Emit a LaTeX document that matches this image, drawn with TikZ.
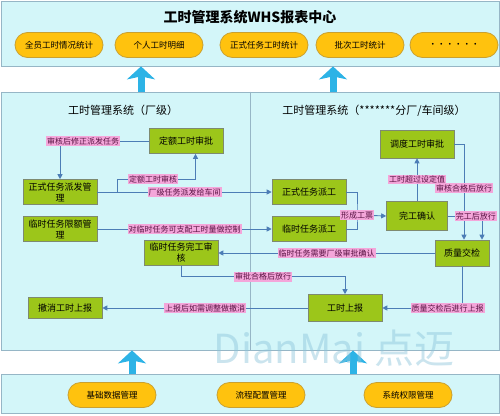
\documentclass[tikz,border=0pt]{standalone}
\usepackage{fontspec}
\setmainfont{Noto Sans CJK SC}
\usetikzlibrary{arrows.meta}
\definecolor{panelbg}{HTML}{D3F6F9}
\definecolor{panelline}{HTML}{96B6C6}
\definecolor{ovalfill}{HTML}{FFC20E}
\definecolor{ovalline}{HTML}{C9A030}
\definecolor{boxgreen}{HTML}{9CC61A}
\definecolor{boxline}{HTML}{7E8A70}
\definecolor{tagpink}{HTML}{F4A6DA}
\definecolor{tagtext}{HTML}{5A1444}
\definecolor{linkblue}{HTML}{4C7DB6}
\definecolor{bigblue}{HTML}{2DB3E6}
\definecolor{markblue}{HTML}{8CC4DA}

\begin{document}
\begin{tikzpicture}[x=1pt,y=-1pt,
  panel/.style={draw=panelline, fill=panelbg, line width=0.8pt, inner sep=0pt},
  rpt/.style={draw=ovalline, fill=ovalfill, line width=0.8pt, rounded corners=12.5pt,
    minimum width=88pt, minimum height=25pt, font=\fontsize{8.5}{10}\selectfont},
  box/.style={draw=boxline, fill=boxgreen, line width=0.6pt, minimum width=74pt,
    minimum height=25pt, align=center, inner sep=1pt, font=\fontsize{9}{11}\selectfont},
  tag/.style={fill=tagpink, text=tagtext, inner sep=1pt, font=\fontsize{8}{9}\selectfont},
  link/.style={draw=linkblue, line width=0.9pt, -{Triangle[length=5pt,width=5pt]}},
  bigarrow/.style={draw=bigblue, line width=7pt, -{Stealth[length=13pt,width=28pt,inset=3pt]}}]

  \useasboundingbox (0,0) rectangle (500,415);

  %% panels
  \node[panel, minimum width=498pt, minimum height=65pt] (top) at (250,33.5) {};
  \node[panel, minimum width=498pt, minimum height=258pt] (mid) at (250,221) {};
  \node[panel, minimum width=498pt, minimum height=39pt] (bot) at (250,394) {};
  \draw[panelline, line width=0.8pt] (mid.north) -- (mid.south);

  %% report centre
  \node[font=\fontsize{14}{16}\selectfont\bfseries] (hd) at (250,17) {工时管理系统WHS报表中心};
  \node[rpt] (r1) at (59,45) {全员工时情况统计};
  \node[rpt] (r2) at (159,45) {个人工时明细};
  \node[rpt] (r3) at (264,45) {正式任务工时统计};
  \node[rpt] (r4) at (360,45) {批次工时统计};
  \node[rpt] (r5) at (454,45) {\textperiodcentered\textperiodcentered\textperiodcentered\textperiodcentered\textperiodcentered\textperiodcentered};

  %% panel titles
  \node[font=\fontsize{11}{13}\selectfont] (tl) at (123,110) {工时管理系统（厂级）};
  \node[font=\fontsize{11}{13}\selectfont] (tr) at (374,111) {工时管理系统（*******分厂/车间级）};

  %% factory level
  \node[box] (dingE) at (186,141) {定额工时审批};
  \node[box] (zsPaifa) at (60,192) {正式任务派发管\\理};
  \node[box] (lsXiane) at (60,229) {临时任务限额管\\理};
  \node[box] (lsWangong) at (181,253) {临时任务完工审\\核};
  \node[box, minimum height=21pt] (cxShangbao) at (65,308) {撤消工时上报};

  %% workshop level
  \node[box] (zsPaigong) at (309,192) {正式任务派工};
  \node[box] (lsPaigong) at (309,229) {临时任务派工};
  \node[box, minimum height=28pt] (ddShenpi) at (417,144) {调度工时审批};
  \node[box, minimum width=61pt, minimum height=29pt] (wgQueren) at (417,216) {完工确认};
  \node[box, minimum width=54pt, minimum height=26pt] (zlJiaojian) at (462,253) {质量交检};
  \node[box, minimum height=27pt] (gsShangbao) at (345,308) {工时上报};

  %% basic modules
  \node[rpt] (b1) at (112,395) {基础数据管理};
  \node[rpt] (b2) at (261,395) {流程配置管理};
  \node[rpt] (b3) at (408,395) {系统权限管理};

  %% big arrows between panels
  \coordinate (u1) at (141,0);
  \coordinate (u2) at (333,0);
  \coordinate (u3) at (132,0);
  \coordinate (u4) at (353,0);
  \draw[bigarrow] (mid.north -| u1) -- (top.south -| u1);
  \draw[bigarrow] (mid.north -| u2) -- (top.south -| u2);
  \draw[bigarrow] (bot.north -| u3) -- (mid.south -| u3);
  \draw[bigarrow] (bot.north -| u4) -- (mid.south -| u4);

  %% factory links
  \draw[link] (dingE.west) -| node[tag, pos=0.37]{审核后修正派发任务} (zsPaifa.north); % dingE->zsPaifa
  \draw[link] (zsPaifa.east) -- node[tag]{厂级任务派发给车间} (zsPaigong.west); % zsPaifa->zsPaigong
  \coordinate (fork) at (117,192);
  \draw[link] (fork) -- ++(0,-13) -| node[tag, pos=0.23]{定额工时审核} ([xshift=9.5pt]dingE.south); % zsPaifa->dingE
  \draw[link] (lsXiane.east) -- node[tag]{对临时任务可支配工时量做控制} (lsPaigong.west); % lsXiane->lsPaigong
  \draw[link] (zlJiaojian.west) -- node[tag]{临时任务需要厂级审批确认} (lsWangong.east); % zlJiaojian->lsWangong
  \draw[link] (lsWangong.south) -- ++(0,11) -| node[tag, pos=0.25]{审批合格后放行} (gsShangbao.north); % lsWangong->gsShangbao
  \draw[link, {Triangle[length=5pt,width=5pt]}-] (cxShangbao.east) -- node[tag]{上报后如需调整做撤消} (gsShangbao.west); % cxShangbao<->gsShangbao

  %% workshop links
  \coordinate (hub) at (357,215);
  \draw[linkblue, line width=0.9pt] (zsPaigong.east) -| (hub) |- (lsPaigong.east);
  \draw[link] (hub) -- (wgQueren.west); % paigong->wgQueren
  \node[tag] (gp) at (hub) {形成工票};
  \draw[link] (wgQueren.north) -- node[tag]{工时超过设定值} (ddShenpi.south); % wgQueren->ddShenpi
  \draw[link] (ddShenpi.east) -| node[tag, pos=0.73]{审核合格后放行} ([xshift=2pt]zlJiaojian.north); % ddShenpi->zlJiaojian
  \draw[link] (wgQueren.east) -| node[tag, pos=0.41]{完工后放行} ([xshift=20pt]zlJiaojian.north); % wgQueren->zlJiaojian
  \draw[link] (zlJiaojian.south) |- node[tag, pos=0.59]{质量交检后进行上报} (gsShangbao.east); % zlJiaojian->gsShangbao

  %% watermark
  \node[text=markblue, opacity=0.45, font=\fontsize{40}{40}\selectfont] (wm) at (334,348) {DianMai 点迈};

\end{tikzpicture}
\end{document}
